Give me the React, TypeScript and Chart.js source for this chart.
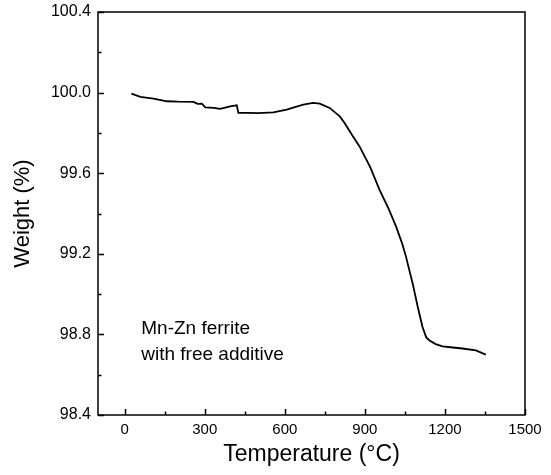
import React, { useEffect, useRef } from "react";
import { Chart, registerables } from "chart.js";

Chart.register(...registerables);

const temperature = [
  25, 59, 108, 158, 200, 258, 273, 289, 302, 333, 358, 395, 420, 426, 463, 500,
  557, 607, 669, 706, 731, 768, 806, 824, 855, 880, 920, 955, 990, 1017, 1040,
  1054, 1079, 1098, 1116, 1130, 1141, 1165, 1191, 1230, 1266, 1316, 1353,
];
const weight = [
  99.995, 99.979, 99.97, 99.957, 99.955, 99.954, 99.944, 99.945, 99.927, 99.924,
  99.919, 99.932, 99.937, 99.899, 99.899, 99.898, 99.902, 99.915, 99.94, 99.949,
  99.945, 99.924, 99.882, 99.849, 99.783, 99.733, 99.63, 99.517, 99.42, 99.335,
  99.25, 99.186, 99.053, 98.937, 98.837, 98.785, 98.771, 98.752, 98.741, 98.735,
  98.73, 98.721, 98.7,
];
const xTicks = [0, 300, 600, 900, 1200, 1500];
const xMinorTicks = [150, 450, 750, 1050, 1350];
const yTicks = [98.4, 98.8, 99.2, 99.6, 100.0, 100.4];
const yMinorTicks = [98.6, 99.0, 99.4, 99.8, 100.2];
const annotationLines = ["Mn-Zn ferrite", "with free additive"];
const annotationX = 62;
const annotationY = 98.8;

const FONT = '"Liberation Sans", Arial, sans-serif';

const framePlugin = {
  id: "frame",
  afterDraw(chart: any) {
    const { ctx, chartArea, scales } = chart;
    const { left, right, top, bottom } = chartArea;
    const x = scales.x;
    const y = scales.y;
    ctx.save();
    ctx.strokeStyle = "#000";
    ctx.lineWidth = 1.5;
    ctx.strokeRect(left, top, right - left, bottom - top);
    ctx.beginPath();
    xTicks.forEach((v) => {
      const px = Math.round(x.getPixelForValue(v)) + 0.5;
      ctx.moveTo(px, bottom);
      ctx.lineTo(px, bottom - 6);
    });
    xMinorTicks.forEach((v) => {
      const px = Math.round(x.getPixelForValue(v)) + 0.5;
      ctx.moveTo(px, bottom);
      ctx.lineTo(px, bottom - 3.5);
    });
    yTicks.forEach((v) => {
      const py = Math.round(y.getPixelForValue(v)) + 0.5;
      ctx.moveTo(left, py);
      ctx.lineTo(left + 6, py);
    });
    yMinorTicks.forEach((v) => {
      const py = Math.round(y.getPixelForValue(v)) + 0.5;
      ctx.moveTo(left, py);
      ctx.lineTo(left + 3.5, py);
    });
    ctx.stroke();
    ctx.fillStyle = "#000";
    ctx.font = "19px " + FONT;
    ctx.textBaseline = "alphabetic";
    ctx.textAlign = "left";
    const ax = x.getPixelForValue(annotationX);
    const ay = y.getPixelForValue(annotationY);
    annotationLines.forEach((t, i) => ctx.fillText(t, ax, ay + i * 26));
    ctx.restore();
  },
};

export default function App() {
  const ref = useRef<HTMLCanvasElement | null>(null);
  useEffect(() => {
    if (!ref.current) return;
    const chart = new Chart(ref.current, {
      type: "line",
      data: {
        datasets: [
          {
            data: temperature.map((t, i) => ({ x: t, y: weight[i] })),
            borderColor: "#000",
            borderWidth: 1.8,
            pointRadius: 0,
            tension: 0,
            fill: false,
          },
        ],
      },
      options: {
        animation: false,
        responsive: false,
        devicePixelRatio: 1,
        layout: { padding: { top: 12, right: 26, left: 0, bottom: 0 } },
        plugins: {
          legend: { display: false },
          tooltip: { enabled: false },
        },
        scales: {
          x: {
            type: "linear",
            min: -100,
            max: 1500,
            afterBuildTicks: (s: any) => {
              s.ticks = xTicks.map((v) => ({ value: v }));
            },
            afterFit: (s: any) => {
              s.height = 60;
              s.paddingLeft = 0;
              s.paddingRight = 0;
            },
            grid: { display: false, drawTicks: false },
            border: { display: false },
            ticks: {
              padding: 6,
              color: "#000",
              font: { size: 15, family: FONT },
              maxRotation: 0,
              callback: (v: any) => String(v),
            },
            title: {
              display: true,
              text: "Temperature (°C)",
              color: "#000",
              font: { size: 23, family: FONT },
              padding: { top: 0, bottom: 7 },
            },
          },
          y: {
            type: "linear",
            min: 98.4,
            max: 100.4,
            afterBuildTicks: (s: any) => {
              s.ticks = yTicks.map((v) => ({ value: v }));
            },
            afterFit: (s: any) => {
              s.width = 98;
              s.paddingTop = 0;
              s.paddingBottom = 0;
            },
            grid: { display: false, drawTicks: false },
            border: { display: false },
            ticks: {
              padding: 7,
              color: "#000",
              font: { size: 16, family: FONT },
              callback: (v: any) => Number(v).toFixed(1),
            },
            title: {
              display: true,
              text: "Weight (%)",
              color: "#000",
              font: { size: 22, family: FONT },
              padding: { top: 10, bottom: 0 },
            },
          },
        },
      },
      plugins: [framePlugin],
    });
    return () => chart.destroy();
  }, []);
  return (
    <div style={{ position: "absolute", left: 0, top: 0, width: 551, height: 475, background: "#fff" }}>
      <canvas ref={ref} width={551} height={475} />
    </div>
  );
}
